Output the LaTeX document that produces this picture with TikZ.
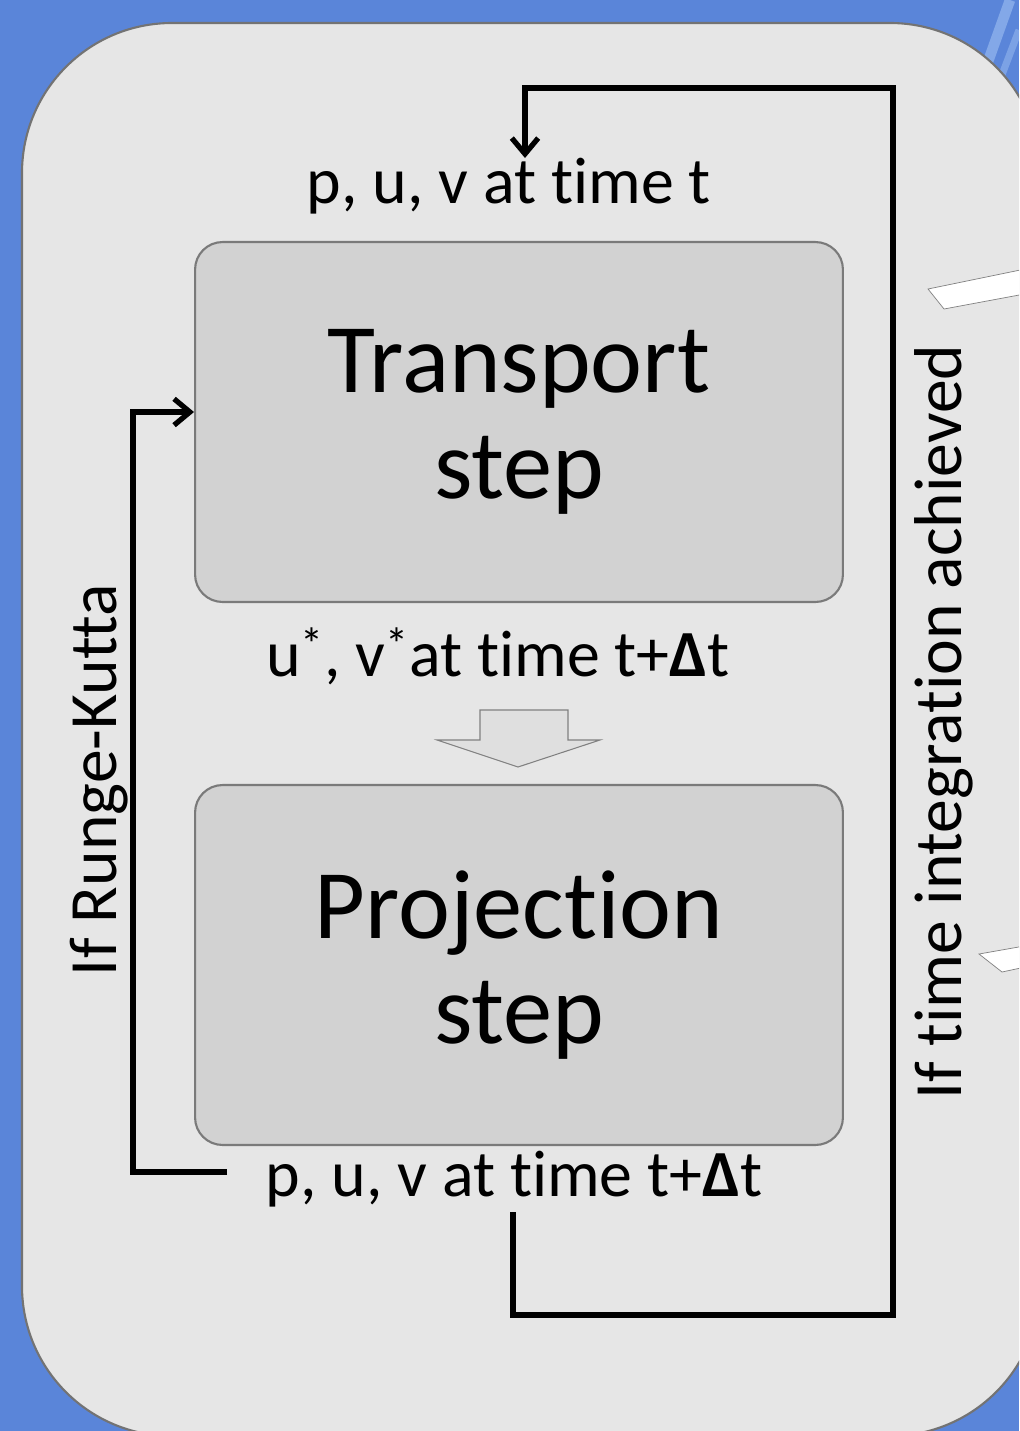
\documentclass[tikz,border=0pt]{standalone}
\usepackage{fontspec}
\setmainfont{Carlito}[Ligatures=NoCommon]
\usepackage{xcolor}
\usepackage{tikz}
\usetikzlibrary{shapes,arrows,arrows.meta,positioning}

\definecolor{slideblue}{HTML}{5A85D9}
\definecolor{streakblue}{HTML}{9FC0F2}
\definecolor{panelgray}{HTML}{E6E6E6}
\definecolor{boxgray}{HTML}{D2D2D2}
\definecolor{edgegray}{HTML}{7A7A7A}

\tikzset{
    stepbox/.style={rectangle, rounded corners=0.55cm, fill=boxgray, draw=edgegray,
        line width=1.2pt, minimum width=12.96cm, minimum height=7.2cm, align=center,
        font=\fontsize{56}{60}\selectfont},
    varlabel/.style={font=\fontsize{37.5}{40}\selectfont, inner sep=0pt},
    sidelabel/.style={font=\fontsize{38.5}{40}\selectfont, inner sep=0pt, rotate=90, anchor=base},
    loopline/.style={line width=3pt, draw=black},
}

\begin{document}
\begin{tikzpicture}[x=0.02cm, y=-0.02cm, >={Straight Barb[length=9pt,width=15pt]}]
    \useasboundingbox (0,0) rectangle (1019,1431);
    \clip (0,0) rectangle (1019,1431);

    % Slide background
    \fill[slideblue] (0,0) rectangle (1019,1431);
    \draw[streakblue, line width=6pt, opacity=0.6] (985,70) -- (1010,0);
    \draw[streakblue, line width=4pt, opacity=0.5] (1000,80) -- (1019,30);

    % Panel
    \filldraw[fill=panelgray, draw=black!55, line width=1.2pt, rounded corners=3cm]
        (22,23) rectangle (1040,1436);

    % Callout pointers from the right
    \filldraw[fill=white, draw=gray, line width=0.4pt]
        (928,289) -- (1030,268) -- (1030,293) -- (944,309) -- cycle;
    \filldraw[fill=white, draw=gray, line width=0.4pt]
        (979,954) -- (1030,945) -- (1030,966) -- (1002,972) -- cycle;

    % Steps
    \node[stepbox] (transport) at (519,422) {Transport\\step};
    \node[stepbox] (projection) at (519,965) {Projection\\step};

    % Labels
    \node[varlabel, anchor=base] (lblin) at (509,203) {p, u, v at time t};
    \node[varlabel, anchor=base] (lblmid) at (498,676)
        {u\textsuperscript{*}, v\textsuperscript{*}at time t+{\bfseries Δ}t};
    \node[varlabel, anchor=base] (lblout) at (514,1196) {p, u, v at time t+{\bfseries Δ}t};
    \node[sidelabel] (rklabel) at (116,780) {If Runge-Kutta};
    \node[sidelabel] (tialabel) at (961,722) {If time integration achieved};

    % Block arrow between the steps
    \filldraw[fill=boxgray!70!white, draw=gray, line width=0.6pt]
        (480,710) -- (568,710) -- (568,740) -- (600,740) -- (518,767) -- (437,740) -- (480,740) -- cycle;

    % Runge-Kutta loop
    \coordinate (outtail) at (227,1172);
    \coordinate (leftbot) at (133,1172);
    \draw[loopline, ->] (outtail) -- (leftbot) |- ([yshift=0.2cm]transport.west);

    % Time loop
    \coordinate (outfoot) at (513,1212);
    \coordinate (rightbot) at (893,1315);
    \coordinate (righttop) at (893,88);
    \coordinate (inhead) at (525,158);
    \draw[loopline, ->] (outfoot) |- (rightbot) -- (righttop) -| (inhead);
\end{tikzpicture}
\end{document}
